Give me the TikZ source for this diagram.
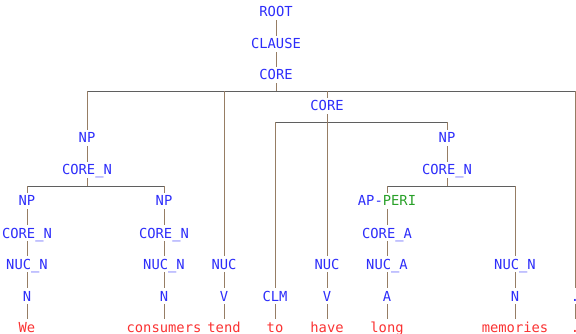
\documentclass[tikz,border=0pt]{standalone}
\usepackage{fontspec}
\setmonofont{DejaVu Sans Mono}
\definecolor{labblue}{RGB}{45,45,250}
\definecolor{wordred}{RGB}{250,50,50}
\definecolor{perigreen}{RGB}{40,160,40}
\definecolor{barcol}{RGB}{95,95,95}
\definecolor{stemcol}{RGB}{150,125,100}
\tikzset{
    lab/.style={font=\ttfamily\fontsize{13.8}{14}\selectfont, text=labblue, inner xsep=1pt, inner ysep=3pt, text height=10pt, text depth=0pt},
    word/.style={lab, text=wordred},
    vline/.style={stemcol, line width=0.9pt},
    hline/.style={barcol, line width=1pt}
}
\begin{document}
\begin{tikzpicture}[x=1pt, y=-1pt]
    \useasboundingbox (0,0) rectangle (576,334);
    % spine
    \node[lab] (root) at (276,12) {ROOT};
    \node[lab] (clause) at (276,44) {CLAUSE};
    \node[lab] (core) at (276,75) {CORE};
    % first NP
    \node[lab] (np1) at (87,138) {NP};
    \node[lab] (coren1) at (87,170) {CORE\_N};
    \node[lab] (np2) at (27,201) {NP};
    \node[lab] (coren2) at (27,233) {CORE\_N};
    \node[lab] (nucn2) at (27,264) {NUC\_N};
    \node[lab] (n2) at (27,296) {N};
    \node[word] (we) at (27,327) {We};
    \node[lab] (np3) at (164,201) {NP};
    \node[lab] (coren3) at (164,233) {CORE\_N};
    \node[lab] (nucn3) at (164,264) {NUC\_N};
    \node[lab] (n3) at (164,296) {N};
    \node[word] (consumers) at (164,327) {consumers};
    % verb
    \node[lab] (nuc1) at (224,264) {NUC};
    \node[lab] (v1) at (224,296) {V};
    \node[word] (tend) at (224,327) {tend};
    % inner core
    \node[lab] (core2) at (327,106) {CORE};
    \node[lab] (clm) at (275,296) {CLM};
    \node[word] (to) at (275,327) {to};
    \node[lab] (nuc2) at (327,264) {NUC};
    \node[lab] (v2) at (327,296) {V};
    \node[word] (have) at (327,327) {have};
    \node[lab] (np4) at (447,138) {NP};
    \node[lab] (coren4) at (447,170) {CORE\_N};
    \node[lab] (ap) at (387,201) {AP-\textcolor{perigreen}{PERI}};
    \node[lab] (corea) at (387,233) {CORE\_A};
    \node[lab] (nuca) at (387,264) {NUC\_A};
    \node[lab] (a) at (387,296) {A};
    \node[word] (long) at (387,327) {long};
    \node[lab] (nucn5) at (515,264) {NUC\_N};
    \node[lab] (n5) at (515,296) {N};
    \node[word] (memories) at (515,327) {memories};
    \node[lab] (punct) at (575,296) {.};
    \node[word] (dot) at (575,327) {.};

    % straight stems
    \foreach \a/\b in {root/clause, clause/core, np1/coren1, np2/coren2, coren2/nucn2, nucn2/n2, n2/we,
        np3/coren3, coren3/nucn3, nucn3/n3, n3/consumers, nuc1/v1, v1/tend, clm/to, nuc2/v2, v2/have,
        np4/coren4, ap/corea, corea/nuca, nuca/a, a/long, nucn5/n5, n5/memories, punct/dot}
        \draw[vline] (\a) -- (\b);

    % branching
    \path (core.south) ++(0,8) coordinate (corebar);
    \path (core2.south) ++(0,8) coordinate (core2bar);
    \path (coren1.south) ++(0,8) coordinate (coren1bar);
    \path (coren4.south) ++(0,8) coordinate (coren4bar);
    \draw[hline] (np1 |- corebar) -- (punct |- corebar);
    \draw[hline] (clm |- core2bar) -- (np4 |- core2bar);
    \draw[hline] (np2 |- coren1bar) -- (np3 |- coren1bar);
    \draw[hline] (ap |- coren4bar) -- (nucn5 |- coren4bar);
    \foreach \p/\c in {core/np1, core/nuc1, core/core2, core/punct, core2/clm, core2/nuc2, core2/np4,
        coren1/np2, coren1/np3, coren4/ap, coren4/nucn5} {
        \draw[vline] (\p) -- (\p |- {\p bar});
        \draw[vline] (\c |- {\p bar}) -- (\c);
    }
\end{tikzpicture}
\end{document}
